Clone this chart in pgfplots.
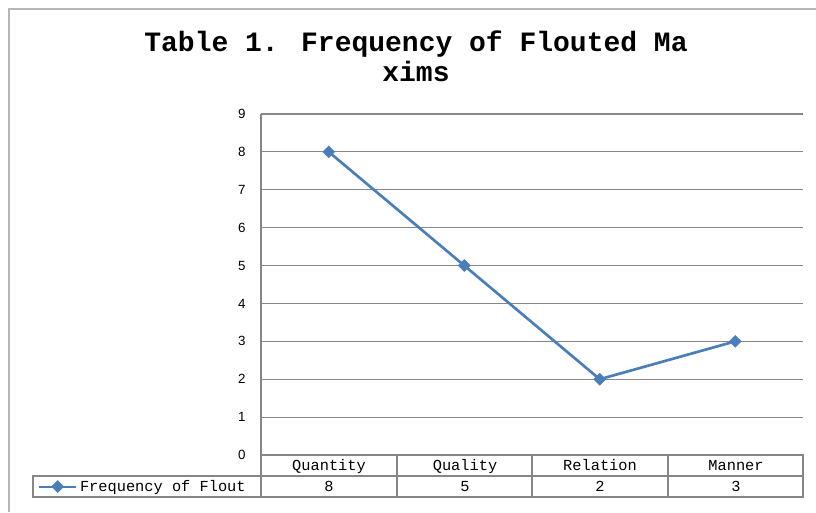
\documentclass[border=0pt]{standalone}
\usepackage{fontspec}
\setmainfont{Liberation Mono}
\newfontfamily\tickfont{Liberation Sans}
\usepackage{pgfplots}
\pgfplotsset{compat=1.18}
\definecolor{serblue}{RGB}{74,126,187}
\definecolor{gridgray}{RGB}{134,134,134}
\begin{document}
\begin{tikzpicture}[x=0.75pt,y=0.75pt]
\useasboundingbox[fill=white] (0,0) rectangle (816,512);
\draw[gridgray!60, line width=1.5pt] (9,0) -- (9,503) -- (816,503);
\node[font=\bfseries\fontsize{21}{22.5}\selectfont, align=center, inner sep=0pt] at (416,456) {Table 1. Frequency of Flouted Ma\\xims};
\begin{axis}[at={(195.75pt,42.75pt)}, anchor=south west, scale only axis,
  width=406.5pt, height=255.75pt,
  xmin=-0.5, xmax=3.5, ymin=0, ymax=9,
  ytick={0,...,9}, xtick=\empty,
  ymajorgrids, grid style={gridgray, line width=0.8pt},
  axis x line=none, axis y line*=left,
  y axis line style={gridgray,-, line width=0.8pt},
  major tick length=0pt,
  yticklabel style={font=\tickfont\fontsize{10}{10}\selectfont, xshift=-8pt},
  /pgf/number format/assume math mode=true,
  clip=false,
  legend image code/.code={\draw[mark repeat=2,mark phase=2,#1,line width=1.5pt] plot coordinates {(0pt,0pt) (14pt,0pt) (28pt,0pt)};},
  legend style={at={(rel axis cs:-0.4114,-0.0924)}, anchor=west, draw=none, fill=none, inner sep=0pt, outer sep=0pt, font=\fontsize{11.5}{12}\selectfont, cells={anchor=west}},
]
\addplot[serblue, line width=2pt, mark=square*, mark size=3.1pt, mark options={fill=serblue, rotate=45, line width=0.5pt}] coordinates {(0,8) (1,5) (2,2) (3,3)};
\addlegendentry{Frequency of Flout}
\end{axis}
\draw[gridgray, line width=0.8pt] (261,57) -- (803,57) -- (803,15) -- (33,15) -- (33,36) -- (803,36);
\foreach \xx in {261,397,532,668} {\draw[gridgray, line width=0.8pt] (\xx,57) -- (\xx,15);}
\begin{scope}[every node/.style={font=\fontsize{11.5}{12}\selectfont, inner sep=0pt, anchor=base}]
\node at (329,42) {Quantity};
\node at (465,42) {Quality};
\node at (600,42) {Relation};
\node at (736,42) {Manner};
\node at (329,21) {8};
\node at (465,21) {5};
\node at (600,21) {2};
\node at (736,21) {3};
\end{scope}
\end{tikzpicture}
\end{document}
